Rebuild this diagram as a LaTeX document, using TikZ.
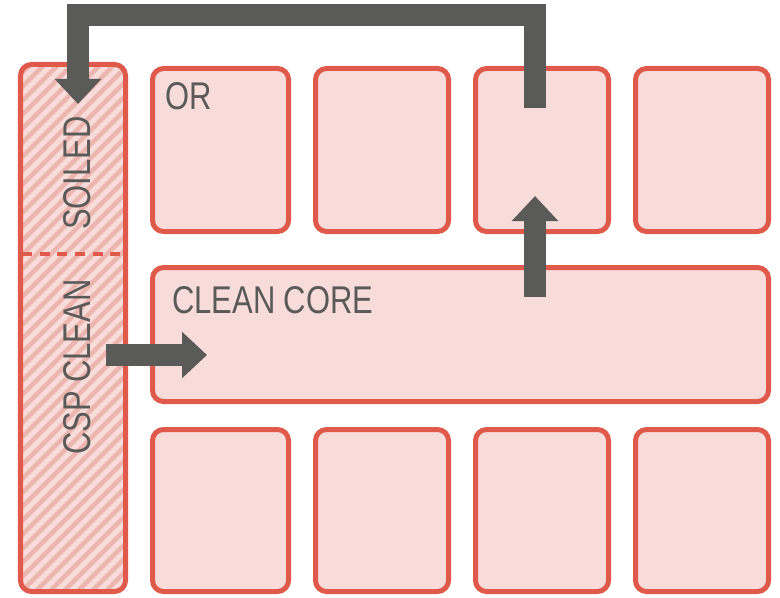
\documentclass[tikz,border=0pt]{standalone}
\usepackage{fontspec}
\setmainfont[FakeStretch=0.8]{Liberation Sans}
\usepackage{tikz}
\usetikzlibrary{arrows.meta, positioning, calc}
\definecolor{Brick}{HTML}{E05A4C}
\definecolor{Blush}{HTML}{F7DCDA}
\definecolor{Stripe}{HTML}{EDB5B0}
\definecolor{Slate}{HTML}{5A5A58}
\tikzset{
    bay/.style={rectangle, rounded corners=3.3mm, draw=Brick, fill=Blush,
                line width=1.5mm, inner sep=0pt, outer sep=0pt},
    flow/.style={draw=Slate, line width=6.5mm, line cap=butt, line join=miter,
                 -{Triangle[width=13.5mm,length=7.5mm]}},
    tag/.style={text=Slate, font=\fontsize{33}{36}\selectfont, inner sep=0pt}
}

\begin{document}
\begin{tikzpicture}[x=0.3mm, y=-0.3mm]
    \useasboundingbox (0,0) rectangle (780,598);

    % Left column: soiled / clean sterile supply
    % (path picture is drawn relative to the node centre)
    \node[bay, minimum width=31.5mm, minimum height=158.1mm,
          path picture={
              \foreach \k in {-620,-606,...,30}
                  \draw[Stripe, line width=1.3mm] (\k,300) -- ++(620,-620);
          }] (csp) at (73,328) {};
    \draw[Brick, line width=1.2mm, dash pattern=on 3mm off 2.3mm] (22,254) -- (121,254);
    \node[tag, rotate=90, anchor=base west] (soiled) at (90,230) {SOILED};
    \node[tag, rotate=90, anchor=base west] (clean) at (90,455) {CSP CLEAN};

    % Top row of operating rooms
    \node[bay, minimum width=40.8mm, minimum height=48.9mm] (orA) at (220.5,150) {};
    \node[bay, minimum width=39.9mm, minimum height=48.9mm] (orB) at (382,150) {};
    \node[bay, minimum width=39.9mm, minimum height=48.9mm] (orC) at (542,150) {};
    \node[bay, minimum width=39.9mm, minimum height=48.9mm] (orD) at (702,150) {};
    \node[tag, anchor=base west] (orlabel) at (165,110) {OR};

    % Clean core
    \node[bay, minimum width=184.8mm, minimum height=40.2mm] (core) at (460.5,334.5) {};
    \node[tag, anchor=base west] (corelabel) at (172,313) {CLEAN CORE};

    % Bottom row
    \node[bay, minimum width=40.8mm, minimum height=48.6mm] (bayA) at (220.5,510.5) {};
    \node[bay, minimum width=39.9mm, minimum height=48.6mm] (bayB) at (382,510.5) {};
    \node[bay, minimum width=39.9mm, minimum height=48.6mm] (bayC) at (542,510.5) {};
    \node[bay, minimum width=39.9mm, minimum height=48.6mm] (bayD) at (702,510.5) {};

    % Flows
    \coordinate (outOR) at (535,108);
    \coordinate (inSoiled) at (78,104);
    \coordinate (outCore) at (535,297);
    \coordinate (inOR) at (535,196);
    \coordinate (outClean) at (106,355);
    \coordinate (inCore) at (207,355);

    \draw[flow] (outOR) -- (outOR |- 0,15) -- (inSoiled |- 0,15) -- (inSoiled);
    \draw[flow] (outCore) -- (inOR);
    \draw[flow] (outClean) -- (inCore);
\end{tikzpicture}
\end{document}
